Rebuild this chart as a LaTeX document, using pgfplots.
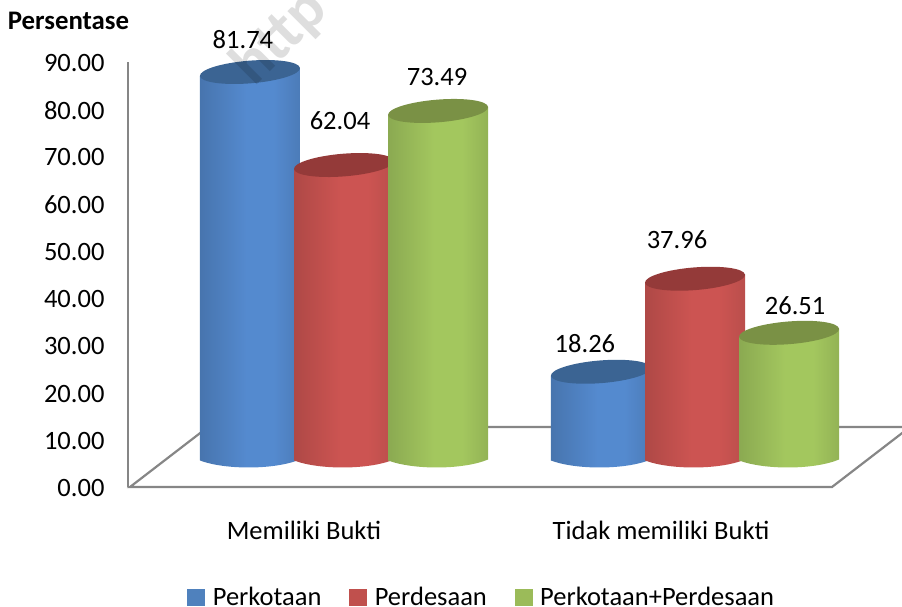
\documentclass[border=0pt]{standalone}
\usepackage{fontspec}
\setmainfont{Carlito}
\usepackage{pgfplots}
\usepackage{pgfplotstable}
\pgfplotsset{compat=1.18}

\definecolor{axisgrey}{HTML}{868686}
\definecolor{legblue}{HTML}{4F81BD}
\definecolor{legred}{HTML}{C0504D}
\definecolor{leggreen}{HTML}{9BBB59}
\definecolor{capblue}{HTML}{3B6493}
\definecolor{capred}{HTML}{943A39}
\definecolor{capgreen}{HTML}{7A9145}

\pgfdeclarehorizontalshading{cylblue}{100bp}{rgb(0bp)=(0.17,0.29,0.45); rgb(12bp)=(0.25,0.41,0.61); rgb(48bp)=(0.33,0.54,0.81); rgb(62bp)=(0.33,0.54,0.81); rgb(90bp)=(0.26,0.42,0.62); rgb(100bp)=(0.23,0.37,0.55)}
\pgfdeclarehorizontalshading{cylred}{100bp}{rgb(0bp)=(0.43,0.16,0.16); rgb(12bp)=(0.62,0.26,0.25); rgb(48bp)=(0.80,0.33,0.32); rgb(62bp)=(0.80,0.33,0.32); rgb(90bp)=(0.65,0.28,0.27); rgb(100bp)=(0.45,0.18,0.17)}
\pgfdeclarehorizontalshading{cylgreen}{100bp}{rgb(0bp)=(0.31,0.40,0.16); rgb(12bp)=(0.49,0.60,0.29); rgb(48bp)=(0.64,0.78,0.37); rgb(62bp)=(0.64,0.78,0.37); rgb(90bp)=(0.50,0.61,0.29); rgb(100bp)=(0.34,0.43,0.19)}

\pgfdeclareplotmark{nothing}{}

\newcommand{\chartfont}{\fontsize{26.5}{30}\selectfont}

% x in category units, v value, dx dy label offset from the top of the cylinder
\pgfplotstableread{
x v dx dy
-0.268 81.74 -7 32
0.732 18.26 -16 28
}\perkotaan
\pgfplotstableread{
x v dx dy
0 62.04 -4 44
1 37.96 -18 39
}\perdesaan
\pgfplotstableread{
x v dx dy
0.268 73.49 -1 34
1.268 26.51 6 27
}\gabungan

\pgfplotsset{
  cyl/.style 2 args={
    only marks, scatter, mark=nothing,
    point meta=y,
    visualization depends on={\thisrow{v} \as \cylv},
    scatter/@pre marker code/.code={%
      \pgfmathsetmacro\cylh{\cylv*4.722}%
      \shade[shading=#1,draw=none] (-50pt,-4pt) -- (-50pt,{-\cylh pt-2.5pt})
        .. controls (-25pt,{-\cylh pt-12pt}) and (25pt,{-\cylh pt-12pt}) ..
        (50pt,{-\cylh pt-1.5pt}) -- (50pt,4pt) -- cycle;
      % tilted cap, rising to the right
      \begin{pgfscope}
        \pgfsetfillcolor{#2}%
        \pgfpathellipse{\pgfpointorigin}{\pgfpoint{50pt}{4pt}}{\pgfpoint{-0.9pt}{11.3pt}}%
        \pgfusepath{fill}%
      \end{pgfscope}
    },
    scatter/@post marker code/.code={},
  },
  vallabel/.style={
    only marks, mark=none,
    point meta=y,
    visualization depends on={\thisrow{dx} \as \labdx},
    visualization depends on={\thisrow{dy} \as \labdy},
    nodes near coords={\pgfmathprintnumber[fixed,fixed zerofill,precision=2,assume math mode=true]{\pgfplotspointmeta}},
    nodes near coords style={font=\chartfont,text=black,anchor=center,inner sep=0pt,
      xshift=\labdx pt,yshift=\labdy pt},
  },
}

\begin{document}
\begin{tikzpicture}
\useasboundingbox (0pt,0pt) rectangle (902pt,606pt);

% floor
\draw[axisgrey,line width=2.2pt] (130pt,119pt) -- (832pt,119pt) -- (910pt,179pt) -- (208pt,179pt) -- cycle;

\begin{axis}[
    at={(128pt,119pt)}, anchor=south west,
    scale only axis, width=774pt, height=425pt,
    xmin=-0.493, xmax=1.675,
    ymin=0, ymax=90,
    axis x line*=bottom, axis y line*=left,
    x axis line style={draw=none},
    y axis line style={axisgrey,line width=2.2pt},
    xtick={0,1},
    xticklabels={Memiliki Bukti,Tidak memiliki Bukti},
    ytick={0,10,...,90},
    major tick length=0pt,
    tick label style={font=\chartfont,text=black},
    xticklabel style={yshift=-31pt},
    yticklabel style={xshift=-20pt,yshift=-1pt,/pgf/number format/.cd,fixed,fixed zerofill,precision=2,assume math mode=true},
    legend style={at={(0.457,-0.259)},anchor=center,legend columns=-1,draw=none,fill=none,
      font=\chartfont,
      /tikz/every even column/.append style={column sep=26pt}},
    legend image code/.code={\fill[#1] (0pt,-8pt) rectangle (17pt,8pt);\path (23pt,0pt);},
]
\addlegendimage{legblue}\addlegendentry{Perkotaan}
\addlegendimage{legred}\addlegendentry{Perdesaan}
\addlegendimage{leggreen}\addlegendentry{Perkotaan+Perdesaan}
\end{axis}

\begin{axis}[
    at={(128pt,119pt)}, anchor=south west,
    scale only axis, width=774pt, height=425pt,
    xmin=-0.6154, xmax=1.5897,
    ymin=-6.144, ymax=83.856,
    hide axis, clip=false,
]
\addplot[cyl={cylblue}{capblue}] table[x=x,y=v] {\perkotaan};
\addplot[cyl={cylred}{capred}] table[x=x,y=v] {\perdesaan};
\addplot[cyl={cylgreen}{capgreen}] table[x=x,y=v] {\gabungan};
\addplot[vallabel] table[x=x,y=v] {\perkotaan};
\addplot[vallabel] table[x=x,y=v] {\perdesaan};
\addplot[vallabel] table[x=x,y=v] {\gabungan};
\end{axis}

\node[font=\fontsize{26.8}{30}\selectfont\bfseries,text=black] at (68.5pt,585pt) {Persentase};
\node[font=\fontsize{62}{70}\selectfont\bfseries,text=black,opacity=0.13,rotate=45] at (280pt,568pt) {http};
\end{tikzpicture}
\end{document}
